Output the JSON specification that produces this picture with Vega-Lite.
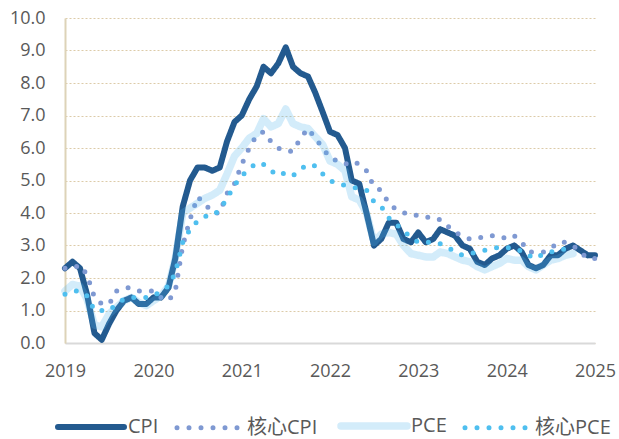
{
  "$schema": "https://vega.github.io/schema/vega-lite/v6.json",
  "width": 530,
  "height": 325,
  "autosize": {"type": "none"},
  "padding": {"left": 65, "top": 18, "right": 24, "bottom": 96},
  "background": "white",
  "config": {
    "view": {"stroke": null},
    "font": "Open Sans",
    "axis": {"labelFont": "Open Sans", "labelFontSize": 18, "labelColor": "#595959", "ticks": false, "tickSize": 0, "title": null},
    "legend": {
      "orient": "none", "legendX": -11, "legendY": 371, "direction": "horizontal", "columns": 4,
      "symbolType": "stroke", "symbolSize": 4356, "labelFont": "Open Sans, Noto Sans CJK SC, sans-serif",
      "labelFontSize": 20, "labelColor": "#595959", "labelOffset": 0, "columnPadding": 8, "title": null
    }
  },
  "data": {"values": [
    {"s":"CPI","d":"2019-12-01","v":2.3},{"s":"CPI","d":"2020-01-01","v":2.5},{"s":"CPI","d":"2020-02-01","v":2.3},{"s":"CPI","d":"2020-03-01","v":1.5},{"s":"CPI","d":"2020-04-01","v":0.3},{"s":"CPI","d":"2020-05-01","v":0.1},{"s":"CPI","d":"2020-06-01","v":0.6},{"s":"CPI","d":"2020-07-01","v":1.0},{"s":"CPI","d":"2020-08-01","v":1.3},{"s":"CPI","d":"2020-09-01","v":1.4},{"s":"CPI","d":"2020-10-01","v":1.2},{"s":"CPI","d":"2020-11-01","v":1.2},{"s":"CPI","d":"2020-12-01","v":1.4},
    {"s":"CPI","d":"2021-01-01","v":1.4},{"s":"CPI","d":"2021-02-01","v":1.7},{"s":"CPI","d":"2021-03-01","v":2.6},{"s":"CPI","d":"2021-04-01","v":4.2},{"s":"CPI","d":"2021-05-01","v":5.0},{"s":"CPI","d":"2021-06-01","v":5.4},{"s":"CPI","d":"2021-07-01","v":5.4},{"s":"CPI","d":"2021-08-01","v":5.3},{"s":"CPI","d":"2021-09-01","v":5.4},{"s":"CPI","d":"2021-10-01","v":6.2},{"s":"CPI","d":"2021-11-01","v":6.8},{"s":"CPI","d":"2021-12-01","v":7.0},
    {"s":"CPI","d":"2022-01-01","v":7.5},{"s":"CPI","d":"2022-02-01","v":7.9},{"s":"CPI","d":"2022-03-01","v":8.5},{"s":"CPI","d":"2022-04-01","v":8.3},{"s":"CPI","d":"2022-05-01","v":8.6},{"s":"CPI","d":"2022-06-01","v":9.1},{"s":"CPI","d":"2022-07-01","v":8.5},{"s":"CPI","d":"2022-08-01","v":8.3},{"s":"CPI","d":"2022-09-01","v":8.2},{"s":"CPI","d":"2022-10-01","v":7.7},{"s":"CPI","d":"2022-11-01","v":7.1},{"s":"CPI","d":"2022-12-01","v":6.5},
    {"s":"CPI","d":"2023-01-01","v":6.4},{"s":"CPI","d":"2023-02-01","v":6.0},{"s":"CPI","d":"2023-03-01","v":5.0},{"s":"CPI","d":"2023-04-01","v":4.9},{"s":"CPI","d":"2023-05-01","v":4.0},{"s":"CPI","d":"2023-06-01","v":3.0},{"s":"CPI","d":"2023-07-01","v":3.2},{"s":"CPI","d":"2023-08-01","v":3.7},{"s":"CPI","d":"2023-09-01","v":3.7},{"s":"CPI","d":"2023-10-01","v":3.2},{"s":"CPI","d":"2023-11-01","v":3.1},{"s":"CPI","d":"2023-12-01","v":3.4},
    {"s":"CPI","d":"2024-01-01","v":3.1},{"s":"CPI","d":"2024-02-01","v":3.2},{"s":"CPI","d":"2024-03-01","v":3.5},{"s":"CPI","d":"2024-04-01","v":3.4},{"s":"CPI","d":"2024-05-01","v":3.3},{"s":"CPI","d":"2024-06-01","v":3.0},{"s":"CPI","d":"2024-07-01","v":2.9},{"s":"CPI","d":"2024-08-01","v":2.5},{"s":"CPI","d":"2024-09-01","v":2.4},{"s":"CPI","d":"2024-10-01","v":2.6},{"s":"CPI","d":"2024-11-01","v":2.7},{"s":"CPI","d":"2024-12-01","v":2.9},
    {"s":"CPI","d":"2025-01-01","v":3.0},{"s":"CPI","d":"2025-02-01","v":2.8},{"s":"CPI","d":"2025-03-01","v":2.4},{"s":"CPI","d":"2025-04-01","v":2.3},{"s":"CPI","d":"2025-05-01","v":2.4},{"s":"CPI","d":"2025-06-01","v":2.7},{"s":"CPI","d":"2025-07-01","v":2.7},{"s":"CPI","d":"2025-08-01","v":2.9},{"s":"CPI","d":"2025-09-01","v":3.0},{"s":"CPI","d":"2025-11-01","v":2.7},{"s":"CPI","d":"2025-12-01","v":2.7},

    {"s":"核心CPI","d":"2019-12-01","v":2.3},{"s":"核心CPI","d":"2020-01-01","v":2.3},{"s":"核心CPI","d":"2020-02-01","v":2.4},{"s":"核心CPI","d":"2020-03-01","v":2.1},{"s":"核心CPI","d":"2020-04-01","v":1.4},{"s":"核心CPI","d":"2020-05-01","v":1.2},{"s":"核心CPI","d":"2020-06-01","v":1.2},{"s":"核心CPI","d":"2020-07-01","v":1.6},{"s":"核心CPI","d":"2020-08-01","v":1.7},{"s":"核心CPI","d":"2020-09-01","v":1.7},{"s":"核心CPI","d":"2020-10-01","v":1.6},{"s":"核心CPI","d":"2020-11-01","v":1.6},{"s":"核心CPI","d":"2020-12-01","v":1.6},
    {"s":"核心CPI","d":"2021-01-01","v":1.4},{"s":"核心CPI","d":"2021-02-01","v":1.3},{"s":"核心CPI","d":"2021-03-01","v":1.6},{"s":"核心CPI","d":"2021-04-01","v":3.0},{"s":"核心CPI","d":"2021-05-01","v":3.8},{"s":"核心CPI","d":"2021-06-01","v":4.5},{"s":"核心CPI","d":"2021-07-01","v":4.3},{"s":"核心CPI","d":"2021-08-01","v":4.0},{"s":"核心CPI","d":"2021-09-01","v":4.0},{"s":"核心CPI","d":"2021-10-01","v":4.6},{"s":"核心CPI","d":"2021-11-01","v":4.9},{"s":"核心CPI","d":"2021-12-01","v":5.5},
    {"s":"核心CPI","d":"2022-01-01","v":6.0},{"s":"核心CPI","d":"2022-02-01","v":6.4},{"s":"核心CPI","d":"2022-03-01","v":6.5},{"s":"核心CPI","d":"2022-04-01","v":6.2},{"s":"核心CPI","d":"2022-05-01","v":6.0},{"s":"核心CPI","d":"2022-06-01","v":5.9},{"s":"核心CPI","d":"2022-07-01","v":5.9},{"s":"核心CPI","d":"2022-08-01","v":6.3},{"s":"核心CPI","d":"2022-09-01","v":6.6},{"s":"核心CPI","d":"2022-10-01","v":6.3},{"s":"核心CPI","d":"2022-11-01","v":6.0},{"s":"核心CPI","d":"2022-12-01","v":5.7},
    {"s":"核心CPI","d":"2023-01-01","v":5.6},{"s":"核心CPI","d":"2023-02-01","v":5.5},{"s":"核心CPI","d":"2023-03-01","v":5.6},{"s":"核心CPI","d":"2023-04-01","v":5.5},{"s":"核心CPI","d":"2023-05-01","v":5.3},{"s":"核心CPI","d":"2023-06-01","v":4.8},{"s":"核心CPI","d":"2023-07-01","v":4.7},{"s":"核心CPI","d":"2023-08-01","v":4.3},{"s":"核心CPI","d":"2023-09-01","v":4.1},{"s":"核心CPI","d":"2023-10-01","v":4.0},{"s":"核心CPI","d":"2023-11-01","v":4.0},{"s":"核心CPI","d":"2023-12-01","v":3.9},
    {"s":"核心CPI","d":"2024-01-01","v":3.9},{"s":"核心CPI","d":"2024-02-01","v":3.8},{"s":"核心CPI","d":"2024-03-01","v":3.8},{"s":"核心CPI","d":"2024-04-01","v":3.6},{"s":"核心CPI","d":"2024-05-01","v":3.4},{"s":"核心CPI","d":"2024-06-01","v":3.3},{"s":"核心CPI","d":"2024-07-01","v":3.2},{"s":"核心CPI","d":"2024-08-01","v":3.2},{"s":"核心CPI","d":"2024-09-01","v":3.3},{"s":"核心CPI","d":"2024-10-01","v":3.3},{"s":"核心CPI","d":"2024-11-01","v":3.3},{"s":"核心CPI","d":"2024-12-01","v":3.2},
    {"s":"核心CPI","d":"2025-01-01","v":3.3},{"s":"核心CPI","d":"2025-02-01","v":3.1},{"s":"核心CPI","d":"2025-03-01","v":2.8},{"s":"核心CPI","d":"2025-04-01","v":2.8},{"s":"核心CPI","d":"2025-05-01","v":2.8},{"s":"核心CPI","d":"2025-06-01","v":2.9},{"s":"核心CPI","d":"2025-07-01","v":3.1},{"s":"核心CPI","d":"2025-08-01","v":3.1},{"s":"核心CPI","d":"2025-09-01","v":3.0},{"s":"核心CPI","d":"2025-11-01","v":2.6},{"s":"核心CPI","d":"2025-12-01","v":2.6},

    {"s":"PCE","d":"2019-12-01","v":1.6},{"s":"PCE","d":"2020-01-01","v":1.8},{"s":"PCE","d":"2020-02-01","v":1.75},{"s":"PCE","d":"2020-03-01","v":1.35},{"s":"PCE","d":"2020-04-01","v":0.55},{"s":"PCE","d":"2020-05-01","v":0.5},{"s":"PCE","d":"2020-06-01","v":0.9},{"s":"PCE","d":"2020-07-01","v":1.1},{"s":"PCE","d":"2020-08-01","v":1.3},{"s":"PCE","d":"2020-09-01","v":1.4},{"s":"PCE","d":"2020-10-01","v":1.25},{"s":"PCE","d":"2020-11-01","v":1.15},{"s":"PCE","d":"2020-12-01","v":1.3},
    {"s":"PCE","d":"2021-01-01","v":1.45},{"s":"PCE","d":"2021-02-01","v":1.75},{"s":"PCE","d":"2021-03-01","v":2.6},{"s":"PCE","d":"2021-04-01","v":4.0},{"s":"PCE","d":"2021-05-01","v":4.15},{"s":"PCE","d":"2021-06-01","v":4.3},{"s":"PCE","d":"2021-07-01","v":4.45},{"s":"PCE","d":"2021-08-01","v":4.55},{"s":"PCE","d":"2021-09-01","v":4.7},{"s":"PCE","d":"2021-10-01","v":5.2},{"s":"PCE","d":"2021-11-01","v":5.75},{"s":"PCE","d":"2021-12-01","v":6.0},
    {"s":"PCE","d":"2022-01-01","v":6.3},{"s":"PCE","d":"2022-02-01","v":6.45},{"s":"PCE","d":"2022-03-01","v":6.9},{"s":"PCE","d":"2022-04-01","v":6.65},{"s":"PCE","d":"2022-05-01","v":6.75},{"s":"PCE","d":"2022-06-01","v":7.2},{"s":"PCE","d":"2022-07-01","v":6.75},{"s":"PCE","d":"2022-08-01","v":6.65},{"s":"PCE","d":"2022-09-01","v":6.6},{"s":"PCE","d":"2022-10-01","v":6.35},{"s":"PCE","d":"2022-11-01","v":6.1},{"s":"PCE","d":"2022-12-01","v":5.6},
    {"s":"PCE","d":"2023-01-01","v":5.5},{"s":"PCE","d":"2023-02-01","v":5.3},{"s":"PCE","d":"2023-03-01","v":4.5},{"s":"PCE","d":"2023-04-01","v":4.4},{"s":"PCE","d":"2023-05-01","v":4.0},{"s":"PCE","d":"2023-06-01","v":3.1},{"s":"PCE","d":"2023-07-01","v":3.35},{"s":"PCE","d":"2023-08-01","v":3.4},{"s":"PCE","d":"2023-09-01","v":3.35},{"s":"PCE","d":"2023-10-01","v":3.0},{"s":"PCE","d":"2023-11-01","v":2.75},{"s":"PCE","d":"2023-12-01","v":2.7},
    {"s":"PCE","d":"2024-01-01","v":2.65},{"s":"PCE","d":"2024-02-01","v":2.65},{"s":"PCE","d":"2024-03-01","v":2.8},{"s":"PCE","d":"2024-04-01","v":2.75},{"s":"PCE","d":"2024-05-01","v":2.65},{"s":"PCE","d":"2024-06-01","v":2.55},{"s":"PCE","d":"2024-07-01","v":2.5},{"s":"PCE","d":"2024-08-01","v":2.35},{"s":"PCE","d":"2024-09-01","v":2.25},{"s":"PCE","d":"2024-10-01","v":2.35},{"s":"PCE","d":"2024-11-01","v":2.45},{"s":"PCE","d":"2024-12-01","v":2.6},
    {"s":"PCE","d":"2025-01-01","v":2.55},{"s":"PCE","d":"2025-02-01","v":2.55},{"s":"PCE","d":"2025-03-01","v":2.35},{"s":"PCE","d":"2025-04-01","v":2.25},{"s":"PCE","d":"2025-05-01","v":2.4},{"s":"PCE","d":"2025-06-01","v":2.55},{"s":"PCE","d":"2025-07-01","v":2.6},{"s":"PCE","d":"2025-08-01","v":2.7},{"s":"PCE","d":"2025-09-01","v":2.75},

    {"s":"核心PCE","d":"2019-12-01","v":1.5},{"s":"核心PCE","d":"2020-01-01","v":1.6},{"s":"核心PCE","d":"2020-02-01","v":1.6},{"s":"核心PCE","d":"2020-03-01","v":1.45},{"s":"核心PCE","d":"2020-04-01","v":1.0},{"s":"核心PCE","d":"2020-05-01","v":1.0},{"s":"核心PCE","d":"2020-06-01","v":1.0},{"s":"核心PCE","d":"2020-07-01","v":1.2},{"s":"核心PCE","d":"2020-08-01","v":1.35},{"s":"核心PCE","d":"2020-09-01","v":1.4},{"s":"核心PCE","d":"2020-10-01","v":1.4},{"s":"核心PCE","d":"2020-11-01","v":1.4},{"s":"核心PCE","d":"2020-12-01","v":1.45},
    {"s":"核心PCE","d":"2021-01-01","v":1.6},{"s":"核心PCE","d":"2021-02-01","v":1.75},{"s":"核心PCE","d":"2021-03-01","v":2.15},{"s":"核心PCE","d":"2021-04-01","v":3.1},{"s":"核心PCE","d":"2021-05-01","v":3.5},{"s":"核心PCE","d":"2021-06-01","v":3.75},{"s":"核心PCE","d":"2021-07-01","v":3.9},{"s":"核心PCE","d":"2021-08-01","v":3.9},{"s":"核心PCE","d":"2021-09-01","v":4.1},{"s":"核心PCE","d":"2021-10-01","v":4.45},{"s":"核心PCE","d":"2021-11-01","v":4.85},{"s":"核心PCE","d":"2021-12-01","v":5.15},
    {"s":"核心PCE","d":"2022-01-01","v":5.35},{"s":"核心PCE","d":"2022-02-01","v":5.55},{"s":"核心PCE","d":"2022-03-01","v":5.5},{"s":"核心PCE","d":"2022-04-01","v":5.3},{"s":"核心PCE","d":"2022-05-01","v":5.15},{"s":"核心PCE","d":"2022-06-01","v":5.25},{"s":"核心PCE","d":"2022-07-01","v":5.15},{"s":"核心PCE","d":"2022-08-01","v":5.35},{"s":"核心PCE","d":"2022-09-01","v":5.5},{"s":"核心PCE","d":"2022-10-01","v":5.45},{"s":"核心PCE","d":"2022-11-01","v":5.2},{"s":"核心PCE","d":"2022-12-01","v":5.0},
    {"s":"核心PCE","d":"2023-01-01","v":4.9},{"s":"核心PCE","d":"2023-02-01","v":4.85},{"s":"核心PCE","d":"2023-03-01","v":4.8},{"s":"核心PCE","d":"2023-04-01","v":4.75},{"s":"核心PCE","d":"2023-05-01","v":4.7},{"s":"核心PCE","d":"2023-06-01","v":4.35},{"s":"核心PCE","d":"2023-07-01","v":4.2},{"s":"核心PCE","d":"2023-08-01","v":3.85},{"s":"核心PCE","d":"2023-09-01","v":3.65},{"s":"核心PCE","d":"2023-10-01","v":3.45},{"s":"核心PCE","d":"2023-11-01","v":3.25},{"s":"核心PCE","d":"2023-12-01","v":3.1},
    {"s":"核心PCE","d":"2024-01-01","v":3.1},{"s":"核心PCE","d":"2024-02-01","v":3.1},{"s":"核心PCE","d":"2024-03-01","v":3.05},{"s":"核心PCE","d":"2024-04-01","v":2.95},{"s":"核心PCE","d":"2024-05-01","v":2.8},{"s":"核心PCE","d":"2024-06-01","v":2.7},{"s":"核心PCE","d":"2024-07-01","v":2.75},{"s":"核心PCE","d":"2024-08-01","v":2.8},{"s":"核心PCE","d":"2024-09-01","v":2.85},{"s":"核心PCE","d":"2024-10-01","v":2.9},{"s":"核心PCE","d":"2024-11-01","v":2.95},{"s":"核心PCE","d":"2024-12-01","v":2.95},
    {"s":"核心PCE","d":"2025-01-01","v":2.85},{"s":"核心PCE","d":"2025-02-01","v":2.85},{"s":"核心PCE","d":"2025-03-01","v":2.7},{"s":"核心PCE","d":"2025-04-01","v":2.6},{"s":"核心PCE","d":"2025-05-01","v":2.75},{"s":"核心PCE","d":"2025-06-01","v":2.8},{"s":"核心PCE","d":"2025-07-01","v":2.85},{"s":"核心PCE","d":"2025-08-01","v":2.9},{"s":"核心PCE","d":"2025-09-01","v":2.85}
  ]},
  "mark": {"type": "line", "strokeCap": "round", "strokeJoin": "round"},
  "encoding": {
    "x": {
      "field": "d", "type": "temporal",
      "scale": {"type": "utc", "domain": [{"year": 2019, "month": 12, "date": 1, "utc": true}, {"year": 2025, "month": 12, "date": 1, "utc": true}]},
      "axis": {
        "values": [{"year": 2019, "month": 12, "date": 1, "utc": true}, {"year": 2020, "month": 12, "date": 1, "utc": true}, {"year": 2021, "month": 12, "date": 1, "utc": true}, {"year": 2022, "month": 12, "date": 1, "utc": true}, {"year": 2023, "month": 12, "date": 1, "utc": true}, {"year": 2024, "month": 12, "date": 1, "utc": true}, {"year": 2025, "month": 12, "date": 1, "utc": true}],
        "labelExpr": "utcFormat(datum.value, '%Y')",
        "labelPadding": 19, "labelFlush": false, "labelOverlap": false,
        "grid": false, "domainColor": "#D9D9D9", "domainWidth": 2
      }
    },
    "y": {
      "field": "v", "type": "quantitative",
      "scale": {"domain": [0, 10], "nice": false},
      "axis": {
        "values": [0, 1, 2, 3, 4, 5, 6, 7, 8, 9, 10], "format": ".1f",
        "labelPadding": 20, "grid": true, "gridColor": "#DCCBA8", "gridDash": [2, 2], "gridWidth": 1,
        "domainColor": "#DDD3B8", "domainWidth": 2
      }
    },
    "color": {
      "field": "s", "type": "nominal",
      "scale": {"domain": ["CPI", "核心CPI", "PCE", "核心PCE"], "range": ["#235A8F", "#7F99D2", "#50B4EC", "#4FBFEF"]},
      "legend": {"title": null, "encode": {"symbols": {"update": {"strokeCap": {"value": "round"}, "strokeOpacity": {"signal": "datum.value === 'PCE' ? 0.25 : 1"}}}}}
    },
    "strokeDash": {
      "field": "s", "type": "nominal",
      "scale": {"domain": ["CPI", "核心CPI", "PCE", "核心PCE"], "range": [[1, 0], [0, 12], [1, 0], [0, 12]]},
      "legend": {"title": null}
    },
    "strokeWidth": {
      "field": "s", "type": "nominal",
      "scale": {"type": "ordinal", "domain": ["CPI", "核心CPI", "PCE", "核心PCE"], "range": [6, 5, 7.5, 5]},
      "legend": {"title": null}
    },
    "strokeOpacity": {
      "field": "s", "type": "nominal",
      "scale": {"type": "ordinal", "domain": ["CPI", "核心CPI", "PCE", "核心PCE"], "range": [1, 1, 0.25, 1]},
      "legend": {"title": null}
    }
  }
}
